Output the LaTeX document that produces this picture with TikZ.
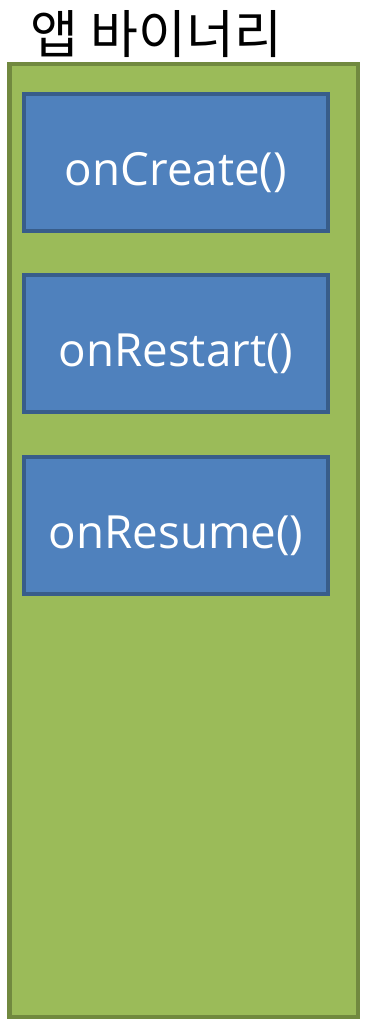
\documentclass[tikz,border=0pt]{standalone}
\usepackage{fontspec}
\setmainfont{Open Sans}
\newfontfamily\kofont{Noto Sans CJK KR}
\usetikzlibrary{positioning}

\definecolor{appgreen}{HTML}{9BBB59}
\definecolor{appgreenline}{HTML}{71893F}
\definecolor{callblue}{HTML}{4F81BD}
\definecolor{callblueline}{HTML}{385D8A}

\tikzset{
  container/.style={draw=appgreenline, fill=appgreen, line width=1.1mm, inner sep=0pt},
  callback/.style={draw=callblueline, fill=callblue, line width=1mm, inner sep=0pt,
    minimum width=76mm, minimum height=34.25mm, text=white,
    text height=11.5mm, text depth=0mm,
    font=\fontsize{32.5}{38}\selectfont},
}

\begin{document}
\begin{tikzpicture}[x=0.25mm, y=-0.25mm]
  \useasboundingbox (0,0) rectangle (366,1024);

  % container
  \node[container, minimum width=87.1mm, minimum height=238.25mm] (binary) at (183.75,540.5) {};
  \node[anchor=base west, font=\kofont\fontsize{37}{44}\selectfont] (title) at (26,54) {앱 바이너리};

  % callbacks
  \node[callback] (create) at (176,162.5) {onCreate()};
  \node[callback, below=10mm of create] (restart) {onRestart()};
  \node[callback, below=10.25mm of restart] (resume) {onResume()};
\end{tikzpicture}
\end{document}
